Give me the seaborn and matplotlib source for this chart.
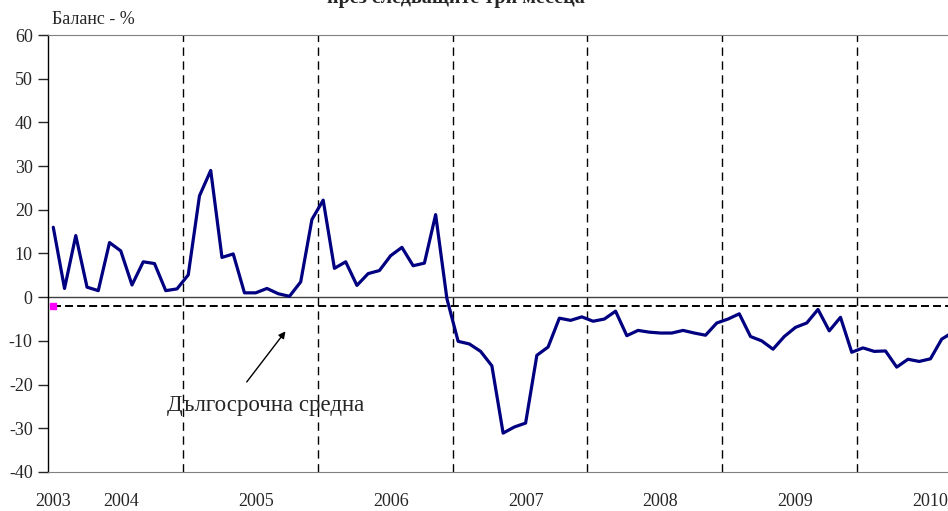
import numpy as np
import pandas as pd
import matplotlib
matplotlib.use("Agg")
import matplotlib.pyplot as plt
import seaborn as sns

# balance values, monthly
balance = [16.0, 2.0, 14.1, 2.3, 1.5, 12.5, 10.6, 2.8, 8.1, 7.7, 1.5, 1.9,
           5.1, 23.2, 29.0, 9.1, 9.9, 1.0, 1.0, 2.0, 0.8, 0.2, 3.5, 17.8,
           22.2, 6.6, 8.1, 2.7, 5.4, 6.1, 9.5, 11.4, 7.2, 7.8, 18.9, -0.3,
           -10.1, -10.7, -12.4, -15.7, -31.1, -29.7, -28.8, -13.3, -11.4, -4.8, -5.3, -4.5,
           -5.5, -5.0, -3.2, -8.8, -7.6, -8.0, -8.2, -8.2, -7.6, -8.2, -8.7, -5.9,
           -5.0, -3.8, -9.0, -10.0, -11.9, -9.0, -6.9, -5.9, -2.8, -7.7, -4.6, -12.6,
           -11.6, -12.4, -12.3, -16.0, -14.2, -14.7, -14.1, -9.6, -8.0]
long_term_avg = -2.1
year_labels = ["2003", "2004", "2005", "2006", "2007", "2008", "2009", "2010"]
year_label_pos = [0, 6, 18, 30, 42, 54, 66, 78]
year_breaks = [11.5, 23.5, 35.5, 47.5, 59.5, 71.5]

df = pd.DataFrame({"t": np.arange(len(balance)), "balance": balance})
df["avg"] = long_term_avg

sns.set_style("white")
plt.rcParams["font.family"] = ["Liberation Serif", "DejaVu Serif"]
plt.rcParams["axes.unicode_minus"] = False

fig = plt.figure(figsize=(9.48, 5.11), dpi=100)
ax = fig.add_axes([48 / 948, 1 - 472 / 511, 1 - 48 / 948, (472 - 35) / 511])

for xb in year_breaks:
    ax.axvline(xb, color="black", lw=1, ls=(0, (6, 4)), zorder=1)
ax.axhline(0, color="#404040", lw=1, zorder=1)

sns.lineplot(data=df, x="t", y="avg", ax=ax, color="black", lw=1.4,
             linestyle=(0, (4.1, 2.1)), zorder=2)
ax.plot(df["t"].iloc[0], long_term_avg, marker="s", ms=4.5, color="#ff00ff",
        mec="#ff00ff", zorder=3)
sns.lineplot(data=df, x="t", y="balance", ax=ax, color="#000080", lw=2.3, zorder=4)

ax.set_xlim(-0.47, 79.56)
ax.set_ylim(-40, 60)
ax.set_yticks(range(-40, 61, 10))
ax.set_xticks(year_label_pos)
ax.set_xticklabels(year_labels)
ax.tick_params(axis="x", length=0, pad=15, labelsize=13)
ax.tick_params(axis="y", length=7, width=1, pad=4, labelsize=13, direction="out", left=True)
ax.set_xlabel("")
ax.set_ylabel("")

ax.spines["left"].set_color("black")
ax.spines["left"].set_linewidth(1)
ax.spines["top"].set_color("#808080")
ax.spines["bottom"].set_color("#808080")
ax.spines["right"].set_visible(False)

ax.annotate("", xy=(20.8, -7.3), xytext=(17.05, -19.9),
            arrowprops=dict(arrowstyle="-|>", color="black", lw=1, mutation_scale=10))
ax.text(18.87, -24.7, "Дългосрочна средна", ha="center", va="center", fontsize=16.5)

fig.text(52 / 948, 1 - 20 / 511, "Баланс - %", ha="left", va="center", fontsize=13)
fig.text(456 / 948, 1 - 2.5 / 511, "през следващите три месеца", ha="center",
         va="baseline", fontsize=14.5, weight="bold")

fig.savefig("out.png", dpi=100)
